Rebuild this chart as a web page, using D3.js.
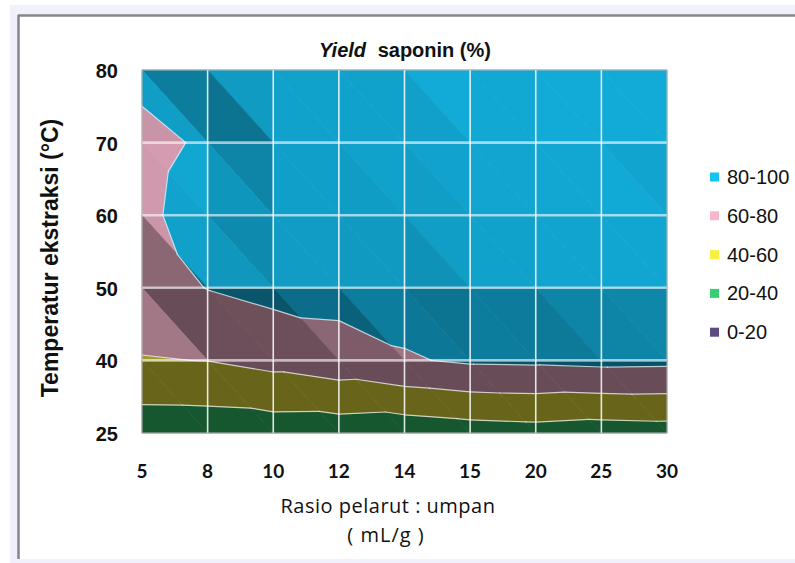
<!DOCTYPE html>
<html>
<head>
<meta charset="utf-8">
<script src="https://cdn.jsdelivr.net/npm/d3@7"></script>
<style>
  body { margin: 0; background: #fff; }
  svg { display: block; }
</style>
</head>
<body>
<svg id="chart" width="795" height="563"></svg>
<script>
// categories
const ratios = ['5', '8', '10', '12', '14', '15', '20', '25', '30'];
const temps = ['25', '40', '50', '60', '70', '80'];

// yield (%) per temperature row, one value per ratio
const yield25 = [27.7, 28, 29.4, 29, 27.2, 30.6, 32.3, 30, 31.3];
const yield40 = [59.2, 60.3, 65.8, 71.5, 78.2, 82.6, 83.3, 85, 84.3];
const yield50 = [70, 80.6, 86, 87, 89, 94, 95, 95, 94];
const yield60 = [79.3, 81.5, 89, 90, 92, 95, 96, 96, 95];
const yield70 = [79, 80.5, 91, 92, 93, 95, 96, 96, 96];
const yield80 = [81, 88, 92, 93, 94, 94, 95, 95, 95];
const yieldRows = [yield25, yield40, yield50, yield60, yield70, yield80];

// bands
const bandEdges = [0, 20, 40, 60, 80, 100];
const bandLabels = ['0-20', '20-40', '40-60', '60-80', '80-100'];
const bandColors = ['#5c4a80', '#34d072', '#f8f040', '#f8b6ce', '#14c2f4'];

const svg = d3.select('#chart');

// frame
svg.append('rect').attr('x', 10).attr('y', 5).attr('width', 785).attr('height', 558).attr('fill', '#f1f1fc');
svg.append('rect').attr('x', 18).attr('y', 15).attr('width', 777).attr('height', 544).attr('fill', '#fff');
svg.append('line').attr('x1', 18).attr('x2', 795).attr('y1', 15.5).attr('y2', 15.5)
    .attr('stroke', '#868686').attr('stroke-width', 2.5);
svg.append('line').attr('x1', 18.5).attr('x2', 18.5).attr('y1', 15).attr('y2', 559)
    .attr('stroke', '#868686').attr('stroke-width', 2.5);

const plot = { left: 142, right: 667, top: 70, bottom: 433 };

const xScale = d3.scalePoint().domain(ratios).range([plot.left, plot.right]);
const yScale = d3.scalePoint().domain(temps).range([plot.bottom, plot.top]);

// light for the 3d shading of the surface
const light = (() => { const v = [0.4, 0.55, 1]; const n = Math.hypot(...v); return v.map(d => d / n); })();
const slopeK = 0.04;
const shade = (gx, gy) => {
  const n = [-slopeK * gx, -slopeK * gy, 1];
  const len = Math.hypot(...n);
  const dot = (n[0] * light[0] + n[1] * light[1] + n[2] * light[2]) / len;
  return Math.max(0.42, Math.min(0.95, 0.2 + 0.8 * dot));
};

const vert = (i, j) => ({ x: xScale(ratios[i]), y: yScale(temps[j]), z: yieldRows[j][i] });

// two triangles per cell, split along the "\" diagonal
const triangles = [];
for (let j = 0; j < temps.length - 1; j++) {
  for (let i = 0; i < ratios.length - 1; i++) {
    const tl = vert(i, j + 1), tr = vert(i + 1, j + 1), br = vert(i + 1, j), bl = vert(i, j);
    triangles.push({ pts: [tl, tr, br], f: shade(tr.z - tl.z, tr.z - br.z) });
    triangles.push({ pts: [tl, br, bl], f: shade(br.z - bl.z, tl.z - bl.z) });
  }
}

const clip = (poly, level, keepAbove) => {
  const out = [];
  const inside = p => keepAbove ? p.z >= level : p.z <= level;
  poly.forEach((a, k) => {
    const b = poly[(k + 1) % poly.length];
    if (inside(a)) out.push(a);
    if (inside(a) !== inside(b)) {
      const t = (level - a.z) / (b.z - a.z);
      out.push({ x: a.x + t * (b.x - a.x), y: a.y + t * (b.y - a.y), z: level });
    }
  });
  return out;
};

const line = d3.line().x(d => d.x).y(d => d.y).curve(d3.curveLinearClosed);

const pieces = [];
triangles.forEach(tri => {
  bandLabels.forEach((lab, b) => {
    let poly = clip(tri.pts, bandEdges[b], true);
    if (poly.length > 2) poly = clip(poly, bandEdges[b + 1], false);
    if (poly.length > 2) {
      const c = d3.rgb(bandColors[b]);
      const col = d3.rgb(c.r * tri.f, c.g * tri.f, c.b * tri.f).formatHex();
      pieces.push({ poly, col });
    }
  });
});

const surface = svg.append('g');
surface.selectAll('path.piece')
    .data(pieces)
    .enter()
    .append('path')
    .attr('class', 'piece')
    .attr('d', d => line(d.poly))
    .attr('fill', d => d.col)
    .attr('stroke', d => d.col)
    .attr('stroke-width', 0.7)
    .attr('stroke-linejoin', 'round');

// contour lines between bands
const segs = [];
triangles.forEach(tri => {
  bandEdges.slice(1, -1).forEach(level => {
    const pts = [];
    tri.pts.forEach((a, k) => {
      const b = tri.pts[(k + 1) % 3];
      if ((a.z - level) * (b.z - level) < 0) {
        const t = (level - a.z) / (b.z - a.z);
        pts.push([a.x + t * (b.x - a.x), a.y + t * (b.y - a.y)]);
      }
    });
    if (pts.length === 2) segs.push(pts);
  });
});
surface.selectAll('line.contour')
    .data(segs)
    .enter()
    .append('line')
    .attr('class', 'contour')
    .attr('x1', d => d[0][0]).attr('y1', d => d[0][1])
    .attr('x2', d => d[1][0]).attr('y2', d => d[1][1])
    .attr('stroke', '#fff')
    .attr('stroke-opacity', 0.7)
    .attr('stroke-width', 1.2)
    .attr('stroke-linecap', 'round');

// gridlines
surface.selectAll('line.hgrid')
    .data(temps.slice(1, -1))
    .enter()
    .append('line')
    .attr('x1', plot.left).attr('x2', plot.right)
    .attr('y1', d => yScale(d)).attr('y2', d => yScale(d))
    .attr('stroke', '#fff').attr('stroke-opacity', 0.6).attr('stroke-width', 2.6);
surface.selectAll('line.vgrid')
    .data(ratios.slice(1, -1))
    .enter()
    .append('line')
    .attr('x1', d => xScale(d)).attr('x2', d => xScale(d))
    .attr('y1', plot.top).attr('y2', plot.bottom)
    .attr('stroke', '#fff').attr('stroke-opacity', 0.85).attr('stroke-width', 1.6);

svg.append('rect')
    .attr('x', plot.left).attr('y', plot.top)
    .attr('width', plot.right - plot.left).attr('height', plot.bottom - plot.top)
    .attr('fill', 'none').attr('stroke', '#b8b8b8').attr('stroke-width', 1);

// Y axis ticks
svg.append('g').selectAll('text')
    .data(temps)
    .enter()
    .append('text')
    .attr('x', 118)
    .attr('y', d => yScale(d) + 8)
    .attr('text-anchor', 'end')
    .style('font-family', 'Liberation Sans, Arial, sans-serif')
    .style('font-weight', 'bold')
    .style('font-size', '20px')
    .attr('fill', '#111')
    .text(d => d);

// X axis ticks
svg.append('g').selectAll('text')
    .data(ratios)
    .enter()
    .append('text')
    .attr('x', d => xScale(d))
    .attr('y', 478)
    .attr('text-anchor', 'middle')
    .style('font-family', 'Lato, sans-serif')
    .style('font-weight', 'bold')
    .style('font-size', '19px')
    .attr('fill', '#111')
    .text(d => d);

// axis titles
svg.append('text')
    .attr('x', 388).attr('y', 513)
    .attr('text-anchor', 'middle')
    .style('font-family', 'Open Sans, sans-serif')
    .style('font-size', '20px')
    .style('letter-spacing', '0.5px')
    .attr('fill', '#111')
    .text('Rasio pelarut : umpan');
svg.append('text')
    .attr('x', 386).attr('y', 542)
    .attr('text-anchor', 'middle')
    .style('font-family', 'Open Sans, sans-serif')
    .style('font-size', '20px')
    .style('letter-spacing', '1px')
    .attr('fill', '#111')
    .text('( mL/g )');

svg.append('text')
    .attr('transform', 'translate(58,258) rotate(-90)')
    .attr('text-anchor', 'middle')
    .style('font-family', 'Liberation Sans, Arial, sans-serif')
    .style('font-weight', 'bold')
    .style('font-size', '23px')
    .attr('fill', '#111')
    .text('Temperatur ekstraksi (°C)');

// title
const title = svg.append('text')
    .attr('x', 405).attr('y', 57)
    .attr('text-anchor', 'middle')
    .style('font-family', 'Liberation Sans, Arial, sans-serif')
    .style('font-weight', 'bold')
    .style('font-size', '20px')
    .attr('fill', '#111');
title.append('tspan').style('font-style', 'italic').text('Yield');
title.append('tspan').attr('dx', 6).text(' saponin (%)');

// legend
const legend = svg.append('g').selectAll('g')
    .data(bandLabels.slice().reverse())
    .enter()
    .append('g')
    .attr('transform', (d, i) => 'translate(710,' + (177 + i * 38.8) + ')');
legend.append('rect')
    .attr('x', 0).attr('y', -4.5).attr('width', 9).attr('height', 9)
    .attr('fill', d => bandColors[bandLabels.indexOf(d)]);
legend.append('text')
    .attr('x', 17).attr('y', 7)
    .style('font-family', 'Liberation Sans, Arial, sans-serif')
    .style('font-size', '20px')
    .attr('fill', '#111')
    .text(d => d);
</script>
</body>
</html>
